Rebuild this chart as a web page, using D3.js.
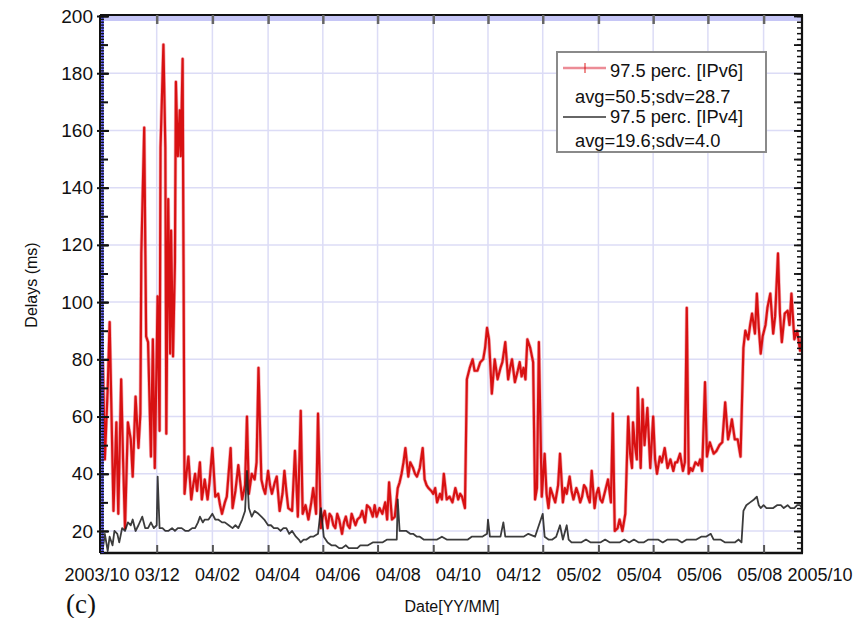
<!DOCTYPE html>
<html><head><meta charset="utf-8">
<script src="https://cdn.jsdelivr.net/npm/d3@7"></script>
<style>
body{margin:0;background:#fff;}
svg{display:block;font-family:"Liberation Sans",Arial,Helvetica,sans-serif;}
</style></head><body>
<svg id="chart" width="856" height="618"></svg>
<script>
// [day offset from 2003/10/01, delay ms]
const ipv6 = [[0,62],[2,79],[4,45],[7,70],[9,93],[11,60],[13,27],[16,58],[18,26],[21,73],[23,45],[25,21],[28,58],[31,52],[33,39],[36,67],[39,49],[41,61],[42,117],[45,161],[47,88],[49,86],[52,46],[54,87],[56,42],[59,102],[61,55],[62,154],[65,190],[67,154],[68,54],[70,136],[72,82],[73,125],[75,81],[77,114],[78,177],[80,151],[82,167],[83,151],[85,185],[87,33],[89,40],[91,46],[94,31],[96,36],[98,40],[100,34],[103,44],[105,31],[108,38],[111,31],[113,37],[116,49],[119,32],[122,33],[124,29],[126,26],[129,30],[131,32],[135,49],[137,28],[140,34],[143,43],[147,31],[150,36],[152,60],[154,33],[157,40],[160,38],[162,44],[164,77],[167,38],[169,35],[171,33],[174,41],[176,36],[178,33],[181,37],[183,39],[186,27],[189,33],[191,41],[193,34],[195,28],[199,27],[202,48],[205,25],[208,62],[210,26],[213,29],[216,24],[219,30],[221,35],[224,26],[226,61],[229,21],[231,25],[233,27],[236,21],[238,26],[240,25],[242,22],[244,21],[246,26],[248,24],[251,19],[253,23],[255,25],[257,22],[259,21],[261,26],[263,24],[265,22],[267,24],[270,25],[272,27],[275,23],[277,29],[280,28],[283,25],[285,29],[287,25],[290,28],[293,26],[296,30],[298,24],[300,37],[303,24],[306,25],[309,35],[311,37],[313,40],[315,44],[317,49],[320,39],[322,44],[325,42],[327,40],[329,39],[332,42],[335,49],[337,38],[339,36],[341,35],[344,34],[346,33],[348,35],[350,30],[353,33],[355,31],[357,40],[360,31],[363,32],[366,30],[369,35],[372,31],[374,33],[376,32],[379,28],[381,73],[384,77],[387,80],[389,76],[392,76],[395,79],[398,80],[400,84],[402,91],[404,87],[407,68],[410,80],[413,73],[416,77],[418,79],[421,86],[424,73],[426,77],[428,80],[431,72],[434,76],[436,79],[438,74],[440,77],[442,73],[444,87],[447,84],[450,79],[452,31],[454,35],[456,86],[459,32],[462,47],[464,33],[466,28],[468,35],[470,33],[473,30],[476,36],[478,47],[481,30],[483,35],[485,33],[488,39],[490,34],[492,31],[495,35],[497,33],[499,30],[501,32],[503,36],[505,35],[507,32],[509,30],[511,41],[514,28],[516,33],[518,35],[520,31],[522,30],[525,34],[528,38],[531,30],[533,61],[535,20],[538,21],[540,24],[543,20],[546,26],[549,60],[551,47],[553,42],[554,58],[556,50],[558,45],[559,70],[562,42],[564,66],[566,50],[569,63],[572,42],[575,60],[577,45],[579,40],[582,46],[584,44],[587,49],[590,42],[593,45],[596,41],[598,44],[600,44],[603,47],[606,41],[608,44],[610,98],[612,40],[614,42],[616,41],[619,44],[622,43],[624,45],[626,41],[629,72],[631,46],[634,51],[636,49],[638,47],[641,48],[644,50],[647,51],[650,65],[653,52],[655,55],[657,59],[660,52],[663,52],[666,46],[669,84],[671,90],[674,87],[676,92],[678,96],[681,89],[683,103],[685,91],[687,82],[689,88],[692,92],[694,98],[697,103],[700,89],[702,95],[705,117],[707,96],[709,86],[712,96],[715,97],[717,92],[719,103],[722,87],[725,90],[728,83],[730,88]];
const ipv4 = [[0,17],[2,14],[4,19],[7,13],[9,18],[12,15],[14,20],[17,19],[19,16],[22,21],[25,20],[28,23],[31,22],[33,24],[36,20],[39,22],[43,25],[46,21],[49,21],[52,23],[55,21],[58,22],[59,39],[61,21],[64,21],[67,20],[70,20],[74,21],[77,20],[80,21],[84,21],[88,20],[91,20],[95,21],[98,21],[101,23],[103,25],[106,23],[108,24],[112,24],[116,26],[119,24],[122,24],[126,23],[129,23],[133,22],[137,21],[140,22],[143,21],[147,24],[150,27],[152,41],[154,28],[157,25],[160,27],[164,26],[167,25],[170,24],[174,22],[177,22],[180,21],[184,21],[187,20],[190,21],[193,21],[196,19],[199,20],[203,18],[206,17],[208,16],[211,17],[214,17],[218,18],[221,18],[226,19],[229,28],[232,18],[236,16],[240,15],[244,15],[248,14],[251,14],[255,15],[258,14],[262,14],[267,14],[270,15],[273,15],[278,15],[283,16],[288,16],[293,16],[298,17],[303,17],[308,17],[309,31],[311,20],[314,20],[318,20],[322,19],[325,19],[329,18],[332,18],[336,17],[340,17],[345,17],[350,17],[355,18],[360,17],[366,17],[372,17],[377,17],[382,17],[386,18],[392,18],[397,18],[402,19],[403,24],[405,18],[409,18],[412,18],[416,18],[419,23],[421,18],[425,18],[430,18],[435,18],[440,18],[445,19],[452,18],[456,22],[460,26],[462,18],[466,17],[470,17],[474,18],[478,22],[481,17],[485,22],[487,17],[490,16],[495,16],[500,16],[505,17],[510,16],[515,16],[520,16],[525,17],[530,16],[535,16],[540,16],[545,17],[550,16],[555,17],[560,16],[565,16],[570,17],[575,17],[580,17],[585,16],[590,17],[595,17],[600,17],[605,16],[610,17],[615,17],[620,17],[625,18],[630,18],[635,19],[638,17],[640,17],[645,17],[650,16],[655,16],[660,16],[664,17],[667,16],[669,27],[672,29],[676,30],[680,31],[683,32],[685,29],[687,28],[690,29],[693,28],[697,28],[700,28],[704,29],[708,29],[711,28],[715,29],[718,28],[722,28],[725,29],[728,29],[730,28]];

const yTicks = [20,40,60,80,100,120,140,160,180,200];
const gridDays = [58,116,174,231,288,346,403,460,518,575,632,690];
const xLabels = ["2003/10","03/12","04/02","04/04","04/06","04/08","04/10","04/12","05/02","05/04","05/06","05/08","2005/10"];
const legendTitles = ["97.5 perc. [IPv6]","97.5 perc. [IPv4]"];
const legendStats = ["avg=50.5;sdv=28.7","avg=19.6;sdv=4.0"];

const L=101,R=802,T=16,B=553;
const x = d3.scaleLinear().domain([0,730]).range([L,R]);
const y = d3.scaleLinear().domain([12.3,200]).range([B,T]);
const xl = d3.scalePoint().domain(xLabels).range([97,820]);
const svg = d3.select("#chart");

svg.append("defs").append("clipPath").attr("id","clip")
  .append("rect").attr("x",L).attr("y",T).attr("width",R-L).attr("height",B-T);

// grid
svg.append("g").selectAll("line").data(gridDays).join("line")
  .attr("x1",d=>x(d)).attr("x2",d=>x(d)).attr("y1",T).attr("y2",B)
  .attr("stroke","#dcdcf6").attr("stroke-width",1.5);
svg.append("g").selectAll("line").data(yTicks.filter(v=>v<200)).join("line")
  .attr("x1",L).attr("x2",R).attr("y1",d=>y(d)).attr("y2",d=>y(d))
  .attr("stroke","#dcdcf6").attr("stroke-width",1.5);
svg.append("rect").attr("x",L).attr("y",y(200)).attr("width",R-L).attr("height",5).attr("fill","#c6c6f6");

// data
const line = d3.line().x(d=>x(d[0])).y(d=>y(d[1]));
const g = svg.append("g").attr("clip-path","url(#clip)");
g.append("path").datum(ipv6).attr("d",line).attr("fill","none")
  .attr("stroke","#f06070").attr("stroke-opacity",0.5).attr("stroke-width",3.6).attr("stroke-linejoin","round");
g.append("path").datum(ipv6).attr("d",line).attr("fill","none")
  .attr("stroke","#d40000").attr("stroke-width",2.2).attr("stroke-opacity",0.9).attr("stroke-linejoin","round");
g.append("path").datum(ipv4).attr("d",line).attr("fill","none")
  .attr("stroke","#1a1a1a").attr("stroke-width",1.8).attr("stroke-opacity",0.85).attr("stroke-linejoin","round");

// frame
svg.append("line").attr("x1",L-1).attr("x2",R+1).attr("y1",T-1).attr("y2",T-1).attr("stroke","#111").attr("stroke-width",2.2);
svg.append("line").attr("x1",L-1).attr("x2",R+1).attr("y1",B).attr("y2",B).attr("stroke","#111").attr("stroke-width",2.4);
svg.append("line").attr("x1",R).attr("x2",R).attr("y1",T-1).attr("y2",B).attr("stroke","#111").attr("stroke-width",2.2);
svg.append("line").attr("x1",L+1.5).attr("x2",L+1.5).attr("y1",T).attr("y2",B).attr("stroke","#4f4ff0").attr("stroke-width",2.5);
svg.append("line").attr("x1",L-1).attr("x2",L-1).attr("y1",T-1).attr("y2",B).attr("stroke","#111").attr("stroke-width",2);

// left axis
const yAxis = d3.axisLeft(y).tickValues(yTicks).tickSize(0).tickPadding(7);
const ya = svg.append("g").attr("transform",`translate(${L-1},0)`).call(yAxis);
ya.select(".domain").remove();
ya.selectAll("text").attr("font-size",19).attr("fill","#111").attr("font-family","Liberation Sans, Arial, sans-serif");
const leftMinor = d3.axisRight(y).tickValues(d3.range(13,201,1)).tickSize(4).tickFormat("");
const lm = svg.append("g").attr("transform",`translate(${L-1},0)`).call(leftMinor);
lm.select(".domain").remove(); lm.selectAll("line").attr("stroke","#111").attr("stroke-width",1.3);
const leftMid = d3.axisRight(y).tickValues(d3.range(20,201,10)).tickSize(8).tickFormat("");
const lmd = svg.append("g").attr("transform",`translate(${L-1},0)`).call(leftMid);
lmd.select(".domain").remove(); lmd.selectAll("line").attr("stroke","#111").attr("stroke-width",2);
const leftMaj = d3.axisRight(y).tickValues(yTicks).tickSize(12).tickFormat("");
const lmj = svg.append("g").attr("transform",`translate(${L-4},0)`).call(leftMaj);
lmj.select(".domain").remove(); lmj.selectAll("line").attr("stroke","#111").attr("stroke-width",2);

// right axis
const rightMinor = d3.axisLeft(y).tickValues(d3.range(14,201,2)).tickSize(5).tickFormat("");
const rm = svg.append("g").attr("transform",`translate(${R},0)`).call(rightMinor);
rm.select(".domain").remove(); rm.selectAll("line").attr("stroke","#111").attr("stroke-width",1.5);
const rightMaj = d3.axisLeft(y).tickValues(d3.range(20,201,10)).tickSize(8).tickFormat("");
const rmj = svg.append("g").attr("transform",`translate(${R},0)`).call(rightMaj);
rmj.select(".domain").remove(); rmj.selectAll("line").attr("stroke","#111").attr("stroke-width",1.8);

// bottom / top ticks
const bottomTicks = d3.axisTop(x).tickValues(gridDays).tickSize(8).tickFormat("");
const bt = svg.append("g").attr("transform",`translate(0,${B})`).call(bottomTicks);
bt.select(".domain").remove(); bt.selectAll("line").attr("stroke","#555").attr("stroke-width",2);
const topTicks = d3.axisBottom(x).tickValues(gridDays).tickSize(9).tickFormat("");
const tt = svg.append("g").attr("transform",`translate(0,${T-1})`).call(topTicks);
tt.select(".domain").remove(); tt.selectAll("line").attr("stroke","#666").attr("stroke-width",2.5);

// x labels
svg.append("g").selectAll("text").data(xLabels).join("text")
  .attr("x",d=>xl(d)).attr("y",581).attr("text-anchor","middle")
  .attr("font-size",18).attr("fill","#111").text(d=>d);

// axis titles
svg.append("text").attr("x",452).attr("y",612).attr("text-anchor","middle")
  .attr("font-size",16).attr("fill","#111").text("Date[YY/MM]");
svg.append("text").attr("transform","translate(37,285) rotate(-90)").attr("text-anchor","middle")
  .attr("font-size",16).attr("fill","#111").text("Delays (ms)");
svg.append("text").attr("x",66).attr("y",613).attr("font-size",27)
  .attr("font-family","Liberation Serif, Times New Roman, serif").attr("fill","#111").text("(c)");

// legend
const lg = svg.append("g");
lg.append("rect").attr("x",557).attr("y",52).attr("width",209).attr("height",100)
  .attr("fill","#fff").attr("stroke","#8a8a8a").attr("stroke-width",2);
lg.append("line").attr("x1",563).attr("x2",606).attr("y1",68).attr("y2",68)
  .attr("stroke","#e04050").attr("stroke-opacity",0.6).attr("stroke-width",2.5);
lg.append("line").attr("x1",585).attr("x2",585).attr("y1",63).attr("y2",73)
  .attr("stroke","#d80000").attr("stroke-opacity",0.6).attr("stroke-width",1.5);
lg.append("line").attr("x1",563).attr("x2",606).attr("y1",117).attr("y2",117)
  .attr("stroke","#333").attr("stroke-width",1.3);
lg.selectAll("text.t").data(legendTitles).join("text").attr("class","t")
  .attr("x",610).attr("y",(d,i)=>77+i*46).attr("font-size",18.3).attr("fill","#111").text(d=>d);
lg.selectAll("text.s").data(legendStats).join("text").attr("class","s")
  .attr("x",575).attr("y",(d,i)=>103+i*44).attr("font-size",18.3).attr("fill","#111").text(d=>d);
</script>
</body></html>
